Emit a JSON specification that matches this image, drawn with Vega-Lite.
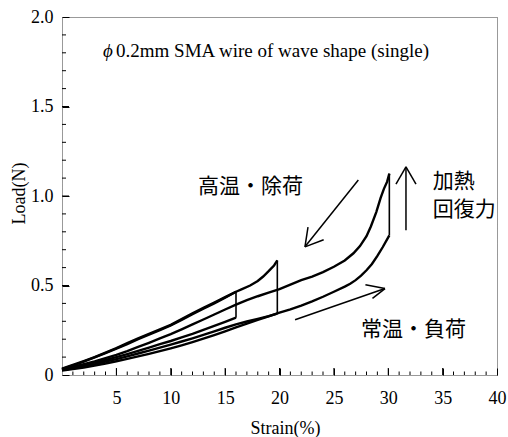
{
  "$schema": "https://vega.github.io/schema/vega-lite/v6.json",
  "width": 435,
  "height": 358,
  "autosize": {"type": "none"},
  "padding": {"left": 62, "top": 17, "right": 11, "bottom": 62},
  "background": "white",
  "config": {
    "view": {"stroke": "#333", "strokeDash": [1, 1], "strokeWidth": 1},
    "font": "Liberation Serif",
    "axis": {"labelFont": "Liberation Serif", "titleFont": "Liberation Serif", "tickColor": "black", "tickWidth": 1, "ticks": true, "domain": false, "grid": false}
  },
  "datasets": {
    "curves": [
      {"s": "load16", "strain": 0, "load": 0.03}, {"s": "load16", "strain": 1, "load": 0.042}, {"s": "load16", "strain": 2, "load": 0.055}, {"s": "load16", "strain": 3, "load": 0.069}, {"s": "load16", "strain": 4, "load": 0.084}, {"s": "load16", "strain": 5, "load": 0.1}, {"s": "load16", "strain": 6, "load": 0.117}, {"s": "load16", "strain": 7, "load": 0.135}, {"s": "load16", "strain": 8, "load": 0.153}, {"s": "load16", "strain": 9, "load": 0.172}, {"s": "load16", "strain": 10, "load": 0.19}, {"s": "load16", "strain": 11, "load": 0.21}, {"s": "load16", "strain": 12, "load": 0.23}, {"s": "load16", "strain": 13, "load": 0.252}, {"s": "load16", "strain": 14, "load": 0.274}, {"s": "load16", "strain": 15, "load": 0.297}, {"s": "load16", "strain": 16, "load": 0.32},
      {"s": "unload16", "strain": 0, "load": 0.033}, {"s": "unload16", "strain": 1, "load": 0.053}, {"s": "unload16", "strain": 2, "load": 0.075}, {"s": "unload16", "strain": 3, "load": 0.098}, {"s": "unload16", "strain": 4, "load": 0.122}, {"s": "unload16", "strain": 5, "load": 0.147}, {"s": "unload16", "strain": 6, "load": 0.173}, {"s": "unload16", "strain": 7, "load": 0.2}, {"s": "unload16", "strain": 8, "load": 0.225}, {"s": "unload16", "strain": 9, "load": 0.25}, {"s": "unload16", "strain": 10, "load": 0.277}, {"s": "unload16", "strain": 11, "load": 0.308}, {"s": "unload16", "strain": 12, "load": 0.34}, {"s": "unload16", "strain": 13, "load": 0.37}, {"s": "unload16", "strain": 14, "load": 0.4}, {"s": "unload16", "strain": 15, "load": 0.432}, {"s": "unload16", "strain": 16, "load": 0.465},
      {"s": "load20", "strain": 0, "load": 0.028}, {"s": "load20", "strain": 1, "load": 0.038}, {"s": "load20", "strain": 2, "load": 0.049}, {"s": "load20", "strain": 3, "load": 0.061}, {"s": "load20", "strain": 4, "load": 0.075}, {"s": "load20", "strain": 5, "load": 0.089}, {"s": "load20", "strain": 6, "load": 0.104}, {"s": "load20", "strain": 7, "load": 0.12}, {"s": "load20", "strain": 8, "load": 0.136}, {"s": "load20", "strain": 9, "load": 0.153}, {"s": "load20", "strain": 10, "load": 0.17}, {"s": "load20", "strain": 11, "load": 0.187}, {"s": "load20", "strain": 12, "load": 0.205}, {"s": "load20", "strain": 13, "load": 0.224}, {"s": "load20", "strain": 14, "load": 0.244}, {"s": "load20", "strain": 15, "load": 0.264}, {"s": "load20", "strain": 16, "load": 0.283}, {"s": "load20", "strain": 17, "load": 0.299}, {"s": "load20", "strain": 18, "load": 0.314}, {"s": "load20", "strain": 19, "load": 0.329}, {"s": "load20", "strain": 19.8, "load": 0.343},
      {"s": "unload20", "strain": 0, "load": 0.035}, {"s": "unload20", "strain": 1, "load": 0.056}, {"s": "unload20", "strain": 2, "load": 0.078}, {"s": "unload20", "strain": 3, "load": 0.1}, {"s": "unload20", "strain": 4, "load": 0.125}, {"s": "unload20", "strain": 5, "load": 0.15}, {"s": "unload20", "strain": 6, "load": 0.178}, {"s": "unload20", "strain": 7, "load": 0.205}, {"s": "unload20", "strain": 8, "load": 0.23}, {"s": "unload20", "strain": 9, "load": 0.255}, {"s": "unload20", "strain": 10, "load": 0.28}, {"s": "unload20", "strain": 11, "load": 0.312}, {"s": "unload20", "strain": 12, "load": 0.345}, {"s": "unload20", "strain": 13, "load": 0.375}, {"s": "unload20", "strain": 14, "load": 0.405}, {"s": "unload20", "strain": 15, "load": 0.435}, {"s": "unload20", "strain": 16, "load": 0.465}, {"s": "unload20", "strain": 16.5, "load": 0.478}, {"s": "unload20", "strain": 17.3, "load": 0.5}, {"s": "unload20", "strain": 18, "load": 0.525}, {"s": "unload20", "strain": 18.5, "load": 0.55}, {"s": "unload20", "strain": 19, "load": 0.58}, {"s": "unload20", "strain": 19.5, "load": 0.612}, {"s": "unload20", "strain": 19.8, "load": 0.64},
      {"s": "load30", "strain": 0, "load": 0.025}, {"s": "load30", "strain": 1, "load": 0.033}, {"s": "load30", "strain": 2, "load": 0.042}, {"s": "load30", "strain": 3, "load": 0.052}, {"s": "load30", "strain": 4, "load": 0.064}, {"s": "load30", "strain": 5, "load": 0.077}, {"s": "load30", "strain": 6, "load": 0.09}, {"s": "load30", "strain": 7, "load": 0.104}, {"s": "load30", "strain": 8, "load": 0.118}, {"s": "load30", "strain": 9, "load": 0.133}, {"s": "load30", "strain": 10, "load": 0.149}, {"s": "load30", "strain": 11, "load": 0.166}, {"s": "load30", "strain": 12, "load": 0.184}, {"s": "load30", "strain": 13, "load": 0.203}, {"s": "load30", "strain": 14, "load": 0.223}, {"s": "load30", "strain": 15, "load": 0.244}, {"s": "load30", "strain": 16, "load": 0.266}, {"s": "load30", "strain": 17, "load": 0.287}, {"s": "load30", "strain": 18, "load": 0.308}, {"s": "load30", "strain": 19, "load": 0.328}, {"s": "load30", "strain": 20, "load": 0.348}, {"s": "load30", "strain": 21, "load": 0.367}, {"s": "load30", "strain": 22, "load": 0.388}, {"s": "load30", "strain": 23, "load": 0.411}, {"s": "load30", "strain": 24, "load": 0.437}, {"s": "load30", "strain": 25, "load": 0.465}, {"s": "load30", "strain": 26, "load": 0.494}, {"s": "load30", "strain": 26.5, "load": 0.51}, {"s": "load30", "strain": 27, "load": 0.53}, {"s": "load30", "strain": 27.5, "load": 0.555}, {"s": "load30", "strain": 28, "load": 0.585}, {"s": "load30", "strain": 28.5, "load": 0.62}, {"s": "load30", "strain": 29, "load": 0.665}, {"s": "load30", "strain": 29.5, "load": 0.715}, {"s": "load30", "strain": 30.1, "load": 0.78},
      {"s": "unload30", "strain": 0, "load": 0.03}, {"s": "unload30", "strain": 1, "load": 0.045}, {"s": "unload30", "strain": 2, "load": 0.06}, {"s": "unload30", "strain": 3, "load": 0.076}, {"s": "unload30", "strain": 4, "load": 0.094}, {"s": "unload30", "strain": 5, "load": 0.113}, {"s": "unload30", "strain": 6, "load": 0.134}, {"s": "unload30", "strain": 7, "load": 0.157}, {"s": "unload30", "strain": 8, "load": 0.18}, {"s": "unload30", "strain": 9, "load": 0.204}, {"s": "unload30", "strain": 10, "load": 0.228}, {"s": "unload30", "strain": 11, "load": 0.255}, {"s": "unload30", "strain": 12, "load": 0.283}, {"s": "unload30", "strain": 13, "load": 0.31}, {"s": "unload30", "strain": 14, "load": 0.338}, {"s": "unload30", "strain": 15, "load": 0.366}, {"s": "unload30", "strain": 16, "load": 0.393}, {"s": "unload30", "strain": 17, "load": 0.418}, {"s": "unload30", "strain": 18, "load": 0.44}, {"s": "unload30", "strain": 19, "load": 0.46}, {"s": "unload30", "strain": 20, "load": 0.48}, {"s": "unload30", "strain": 21, "load": 0.505}, {"s": "unload30", "strain": 22, "load": 0.53}, {"s": "unload30", "strain": 23, "load": 0.55}, {"s": "unload30", "strain": 24, "load": 0.575}, {"s": "unload30", "strain": 25, "load": 0.605}, {"s": "unload30", "strain": 26, "load": 0.64}, {"s": "unload30", "strain": 26.8, "load": 0.68}, {"s": "unload30", "strain": 27.4, "load": 0.72}, {"s": "unload30", "strain": 28, "load": 0.775}, {"s": "unload30", "strain": 28.4, "load": 0.83}, {"s": "unload30", "strain": 28.9, "load": 0.91}, {"s": "unload30", "strain": 29.3, "load": 0.99}, {"s": "unload30", "strain": 29.6, "load": 1.04}, {"s": "unload30", "strain": 29.9, "load": 1.08}, {"s": "unload30", "strain": 30.1, "load": 1.125}
    ],
    "heating": [
      {"strain": 16, "lo": 0.32, "hi": 0.465},
      {"strain": 19.8, "lo": 0.343, "hi": 0.64},
      {"strain": 30.1, "lo": 0.78, "hi": 1.125}
    ],
    "arrows": [
      {"x": 27.25, "y": 1.089, "x2": 22.34, "y2": 0.716},
      {"x": 22.34, "y": 0.716, "x2": 24.06, "y2": 0.756},
      {"x": 22.34, "y": 0.716, "x2": 22.62, "y2": 0.826},
      {"x": 31.63, "y": 0.809, "x2": 31.63, "y2": 1.163},
      {"x": 31.63, "y": 1.163, "x2": 30.71, "y2": 1.067},
      {"x": 31.63, "y": 1.163, "x2": 32.55, "y2": 1.067},
      {"x": 21.43, "y": 0.309, "x2": 29.7, "y2": 0.483},
      {"x": 29.7, "y": 0.483, "x2": 27.9, "y2": 0.504},
      {"x": 29.7, "y": 0.483, "x2": 28.55, "y2": 0.428}
    ],
    "jp": [
      {"text": "高温・除荷", "x": 12.5, "y": 1.05},
      {"text": "加熱", "x": 34.1, "y": 1.078},
      {"text": "回復力", "x": 34.1, "y": 0.921},
      {"text": "常温・負荷", "x": 27.5, "y": 0.249}
    ],
    "phi": [{"text": "ϕ", "x": 3.77, "y": 1.81}],
    "title": [{"text": "0.2mm SMA wire of wave shape (single)", "x": 4.97, "y": 1.81}],
    "xmajor": [{"v": 5}, {"v": 10}, {"v": 15}, {"v": 20}, {"v": 25}, {"v": 30}, {"v": 35}],
    "xminor": [{"v": 1}, {"v": 2}, {"v": 3}, {"v": 4}, {"v": 6}, {"v": 7}, {"v": 8}, {"v": 9}, {"v": 11}, {"v": 12}, {"v": 13}, {"v": 14}, {"v": 16}, {"v": 17}, {"v": 18}, {"v": 19}, {"v": 21}, {"v": 22}, {"v": 23}, {"v": 24}, {"v": 26}, {"v": 27}, {"v": 28}, {"v": 29}, {"v": 31}, {"v": 32}, {"v": 33}, {"v": 34}, {"v": 36}, {"v": 37}, {"v": 38}, {"v": 39}],
    "ymajor": [{"v": 0.5}, {"v": 1}, {"v": 1.5}],
    "yminor": [{"v": 0.1}, {"v": 0.2}, {"v": 0.3}, {"v": 0.4}, {"v": 0.6}, {"v": 0.7}, {"v": 0.8}, {"v": 0.9}, {"v": 1.1}, {"v": 1.2}, {"v": 1.3}, {"v": 1.4}, {"v": 1.6}, {"v": 1.7}, {"v": 1.8}, {"v": 1.9}]
  },
  "resolve": {"axis": {"x": "independent", "y": "independent"}},
  "layer": [
    {
      "data": {"name": "curves"},
      "mark": {"type": "line", "color": "black", "strokeWidth": 2.4},
      "encoding": {
        "x": {"field": "strain", "type": "quantitative", "scale": {"domain": [0, 40], "nice": false, "zero": false},
          "axis": {"orient": "bottom", "values": [5, 10, 15, 20, 25, 30, 35, 40], "ticks": true, "tickColor": "black", "tickWidth": 1, "tickSize": -7, "domain": false, "grid": false, "labelPadding": 30, "labelBaseline": "middle", "labelFlush": false, "labelFont": "Liberation Serif", "labelFontSize": 18, "labelColor": "black", "title": "Strain(%)", "titleFont": "Liberation Serif", "titleFontSize": 18, "titleFontWeight": "normal", "titleColor": "black", "titleX": 223, "titleY": 53, "titleBaseline": "middle"}},
        "y": {"field": "load", "type": "quantitative", "scale": {"domain": [0, 2], "nice": false, "zero": false},
          "axis": {"orient": "left", "values": [0, 0.5, 1, 1.5, 2], "ticks": true, "tickColor": "black", "tickWidth": 1, "tickSize": -7, "domain": false, "grid": false, "labelPadding": 16, "labelFlush": false, "labelFont": "Liberation Serif", "labelFontSize": 18, "labelColor": "black", "labelExpr": "datum.value == 0 ? '0' : format(datum.value, '.1f')", "title": "Load(N)", "titleFont": "Liberation Serif", "titleFontSize": 18, "titleFontWeight": "normal", "titleColor": "black", "titleX": -43, "titleY": 176, "titleBaseline": "middle", "titleAngle": 270}},
        "detail": {"field": "s"},
        "order": {"field": "strain", "type": "quantitative"}
      }
    },
    {
      "data": {"name": "heating"},
      "mark": {"type": "rule", "color": "black", "strokeWidth": 1.6},
      "encoding": {
        "x": {"field": "strain", "type": "quantitative", "axis": null},
        "y": {"field": "lo", "type": "quantitative", "axis": null},
        "y2": {"field": "hi"}
      }
    },
    {
      "data": {"name": "xmajor"},
      "mark": {"type": "tick", "orient": "vertical", "size": 7, "thickness": 1, "yOffset": -3.5, "color": "black", "opacity": 1},
      "encoding": {
        "x": {"field": "v", "type": "quantitative", "axis": null},
        "y": {"datum": 0, "type": "quantitative", "axis": null}
      }
    },
    {
      "data": {"name": "xminor"},
      "mark": {"type": "tick", "orient": "vertical", "size": 3.5, "thickness": 1, "yOffset": -1.75, "color": "black", "opacity": 1},
      "encoding": {
        "x": {"field": "v", "type": "quantitative", "axis": null},
        "y": {"datum": 0, "type": "quantitative", "axis": null}
      }
    },
    {
      "data": {"name": "ymajor"},
      "mark": {"type": "tick", "orient": "horizontal", "size": 7, "thickness": 1, "xOffset": 3.5, "color": "black", "opacity": 1},
      "encoding": {
        "y": {"field": "v", "type": "quantitative", "axis": null},
        "x": {"datum": 0, "type": "quantitative", "axis": null}
      }
    },
    {
      "data": {"name": "yminor"},
      "mark": {"type": "tick", "orient": "horizontal", "size": 4, "thickness": 1, "xOffset": 2, "color": "black", "opacity": 1},
      "encoding": {
        "y": {"field": "v", "type": "quantitative", "axis": null},
        "x": {"datum": 0, "type": "quantitative", "axis": null}
      }
    },
    {
      "data": {"name": "arrows"},
      "mark": {"type": "rule", "color": "black", "strokeWidth": 1.5},
      "encoding": {
        "x": {"field": "x", "type": "quantitative", "axis": null},
        "y": {"field": "y", "type": "quantitative", "axis": null},
        "x2": {"field": "x2"},
        "y2": {"field": "y2"}
      }
    },
    {
      "data": {"name": "jp"},
      "mark": {"type": "text", "font": "Noto Sans CJK JP", "fontSize": 21, "align": "left", "baseline": "middle", "color": "black"},
      "encoding": {
        "x": {"field": "x", "type": "quantitative", "axis": null},
        "y": {"field": "y", "type": "quantitative", "axis": null},
        "text": {"field": "text"}
      }
    },
    {
      "data": {"name": "phi"},
      "mark": {"type": "text", "font": "Liberation Serif", "fontStyle": "italic", "fontSize": 19, "align": "left", "baseline": "middle", "color": "black"},
      "encoding": {
        "x": {"field": "x", "type": "quantitative", "axis": null},
        "y": {"field": "y", "type": "quantitative", "axis": null},
        "text": {"field": "text"}
      }
    },
    {
      "data": {"name": "title"},
      "mark": {"type": "text", "font": "Liberation Serif", "fontSize": 19, "align": "left", "baseline": "middle", "color": "black"},
      "encoding": {
        "x": {"field": "x", "type": "quantitative", "axis": null},
        "y": {"field": "y", "type": "quantitative", "axis": null},
        "text": {"field": "text"}
      }
    }
  ]
}
